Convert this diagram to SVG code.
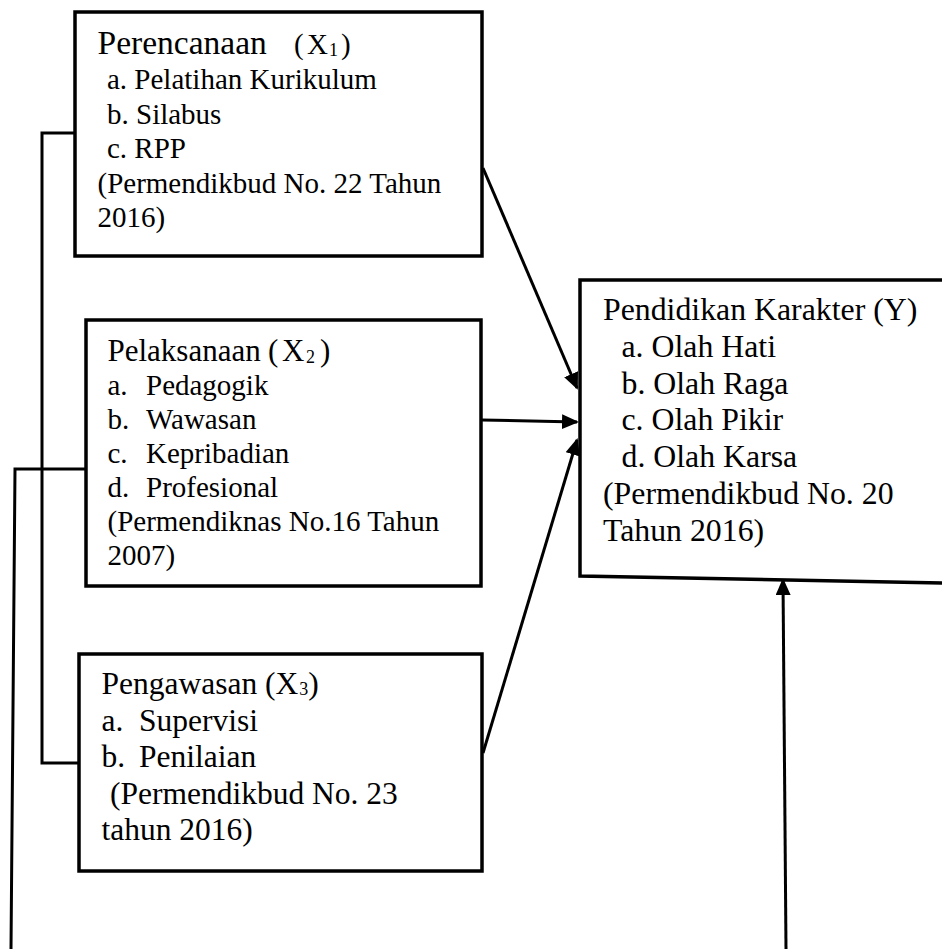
<svg xmlns="http://www.w3.org/2000/svg" width="942" height="949" viewBox="0 0 942 949">
<style>
  .box { fill: #fff; stroke: #000; stroke-width: 3.5; }
  .t { font-family: "Liberation Serif", "Times New Roman", serif; fill: #000; }
  .s29 { font-size: 29px; }
  .s31 { font-size: 31.5px; }
  .sub { font-size: 18px; }
  .conn { fill: none; stroke: #000; stroke-width: 3; }
</style>
<defs>
  <marker id="arrow" markerUnits="userSpaceOnUse" markerWidth="17" markerHeight="15" refX="15" refY="7.5" orient="auto">
    <path d="M0,0 L17,7.5 L0,15 Z" fill="#000"/>
  </marker>
</defs>

<g id="connectors">
  <path class="conn" d="M75,133 H42 V763 H79"/>
  <path class="conn" d="M86,469 H15 L11,949"/>
  <line class="conn" x1="483" y1="168" x2="577" y2="388" marker-end="url(#arrow)"/>
  <line class="conn" x1="482" y1="420" x2="577" y2="422" marker-end="url(#arrow)"/>
  <line class="conn" x1="483" y1="753" x2="577" y2="440" marker-end="url(#arrow)"/>
  <line class="conn" x1="786" y1="949" x2="783" y2="580" marker-end="url(#arrow)"/>
</g>

<g id="node-perencanaan">
  <rect class="box" x="75" y="12" width="407" height="244"/>
  <text class="t" font-size="33.5px" y="54"><tspan x="97.5">Perencanaan</tspan><tspan font-size="29px" x="294">(</tspan><tspan font-size="29px" x="307">X</tspan><tspan class="sub" x="329" dy="2">1</tspan><tspan font-size="29px" x="341" dy="-2">)</tspan></text>
  <text class="t s29" x="107" y="89">a. Pelatihan Kurikulum</text>
  <text class="t s29" x="107" y="123.5">b. Silabus</text>
  <text class="t s29" x="107" y="158">c. RPP</text>
  <text class="t s29" x="97.5" y="192.5">(Permendikbud No. 22 Tahun</text>
  <text class="t s29" x="97.5" y="227">2016)</text>
</g>

<g id="node-pelaksanaan">
  <rect class="box" x="86" y="320" width="395" height="266"/>
  <text class="t" font-size="31px" y="361"><tspan x="107.5">Pelaksanaan</tspan><tspan x="268">(</tspan><tspan x="282">X</tspan><tspan class="sub" x="306" dy="2">2</tspan><tspan x="320" dy="-2">)</tspan></text>
  <text class="t s29" y="395"><tspan x="107.5">a.</tspan><tspan x="146">Pedagogik</tspan></text>
  <text class="t s29" y="429"><tspan x="107.5">b.</tspan><tspan x="146">Wawasan</tspan></text>
  <text class="t s29" y="463"><tspan x="107.5">c.</tspan><tspan x="146">Kepribadian</tspan></text>
  <text class="t s29" y="497"><tspan x="107.5">d.</tspan><tspan x="146">Profesional</tspan></text>
  <text class="t s29" x="107.5" y="531">(Permendiknas No.16 Tahun</text>
  <text class="t s29" x="107.5" y="565">2007)</text>
</g>

<g id="node-pengawasan">
  <rect class="box" x="79" y="654" width="403" height="217"/>
  <text class="t s31" y="694"><tspan x="101.5">Pengawasan (X</tspan><tspan class="sub" font-size="19px" dx="1" dy="1">3</tspan><tspan dy="-1">)</tspan></text>
  <text class="t s31" y="730.5"><tspan x="101.5">a.</tspan><tspan x="139">Supervisi</tspan></text>
  <text class="t s31" y="767"><tspan x="101.5">b.</tspan><tspan x="139">Penilaian</tspan></text>
  <text class="t s31" x="110" y="803.5">(Permendikbud No. 23</text>
  <text class="t s31" x="101.5" y="840">tahun 2016)</text>
</g>

<g id="node-pendidikan-karakter">
  <polygon class="box" points="580,280 948,280 948,583 580,576"/>
  <text class="t" font-size="31.8px" x="603" y="320">Pendidikan Karakter (Y)</text>
  <text class="t" font-size="31.8px" x="621.5" y="356.8">a. Olah Hati</text>
  <text class="t" font-size="31.8px" x="621.5" y="393.6">b. Olah Raga</text>
  <text class="t" font-size="31.8px" x="621.5" y="430.4">c. Olah Pikir</text>
  <text class="t" font-size="31.8px" x="621.5" y="467.2">d. Olah Karsa</text>
  <text class="t" font-size="31.8px" x="603" y="504">(Permendikbud No. 20</text>
  <text class="t" font-size="31.8px" x="603" y="540.8">Tahun 2016)</text>
</g>
</svg>
